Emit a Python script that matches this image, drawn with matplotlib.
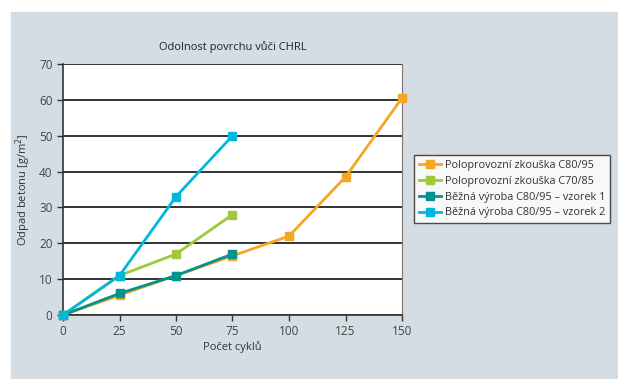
import matplotlib.pyplot as plt
from matplotlib.patches import Rectangle

cycles = [0, 25, 50, 75, 100, 125, 150]
polo_c80 = [0, 5.5, 11, 16.5, 22, 38.5, 60.5]
polo_c70 = [0, 11, 17, 28]
vzorek1 = [0, 6, 11, 17]
vzorek2 = [0, 11, 33, 50]

labels = ['Poloprovozní zkouška C80/95', 'Poloprovozní zkouška C70/85',
          'Běžná výroba C80/95 – vzorek 1', 'Běžná výroba C80/95 – vzorek 2']
colors = ['#f5a623', '#9dc93b', '#00938f', '#00b8dc']

plt.rcParams['font.family'] = ['Open Sans', 'DejaVu Sans']

W, H = 618, 379
fig = plt.figure(figsize=(W / 100, H / 100), dpi=100)
fig.patches.append(Rectangle((11 / W, 0), 1 - 11 / W, 1 - 12 / H,
                             transform=fig.transFigure, color='#d3dde3', zorder=-10))

ax = fig.add_axes([63 / W, 1 - 315 / H, (402 - 63) / W, (315 - 64) / H])
ax.set_facecolor('white')

series = [(cycles, polo_c80), (cycles[:4], polo_c70), (cycles[:4], vzorek1), (cycles[:4], vzorek2)]
for (x, y), lab, c in zip(series, labels, colors):
    ax.plot(x, y, color=c, lw=2, marker='s', ms=6, label=lab, clip_on=False, zorder=3)

ax.set_xlim(0, 150)
ax.set_ylim(0, 70)
ax.set_xticks(cycles)
ax.set_yticks(range(0, 71, 10))
ax.yaxis.grid(True, color='#111111', lw=1.2)
ax.set_axisbelow(True)
for s in ['left', 'bottom']:
    ax.spines[s].set_color('#333333')
    ax.spines[s].set_linewidth(1.2)
ax.spines['right'].set_color('#777777')
ax.spines['top'].set_visible(False)
ax.tick_params(colors='#333333', labelsize=8.5, length=4, width=1, labelcolor='#444444')

ax.set_xlabel('Počet cyklů', fontsize=8, color='#333333', labelpad=2)
ax.set_ylabel('Odpad betonu [g/m$^2$]', fontsize=8, color='#333333', labelpad=4)
ax.set_title('Odolnost povrchu vůči CHRL', fontsize=8, color='#222222', pad=10)

leg = fig.legend(loc='upper left', bbox_to_anchor=(414 / W, 1 - 155 / H), fontsize=7.8,
                 frameon=True, fancybox=False, edgecolor='#222222', handlelength=2,
                 handletextpad=0.4, labelspacing=0.45, borderpad=0.45, borderaxespad=0,
                 labelcolor='#333333')
leg.get_frame().set_linewidth(1)

fig.savefig('out.png', dpi=100)
